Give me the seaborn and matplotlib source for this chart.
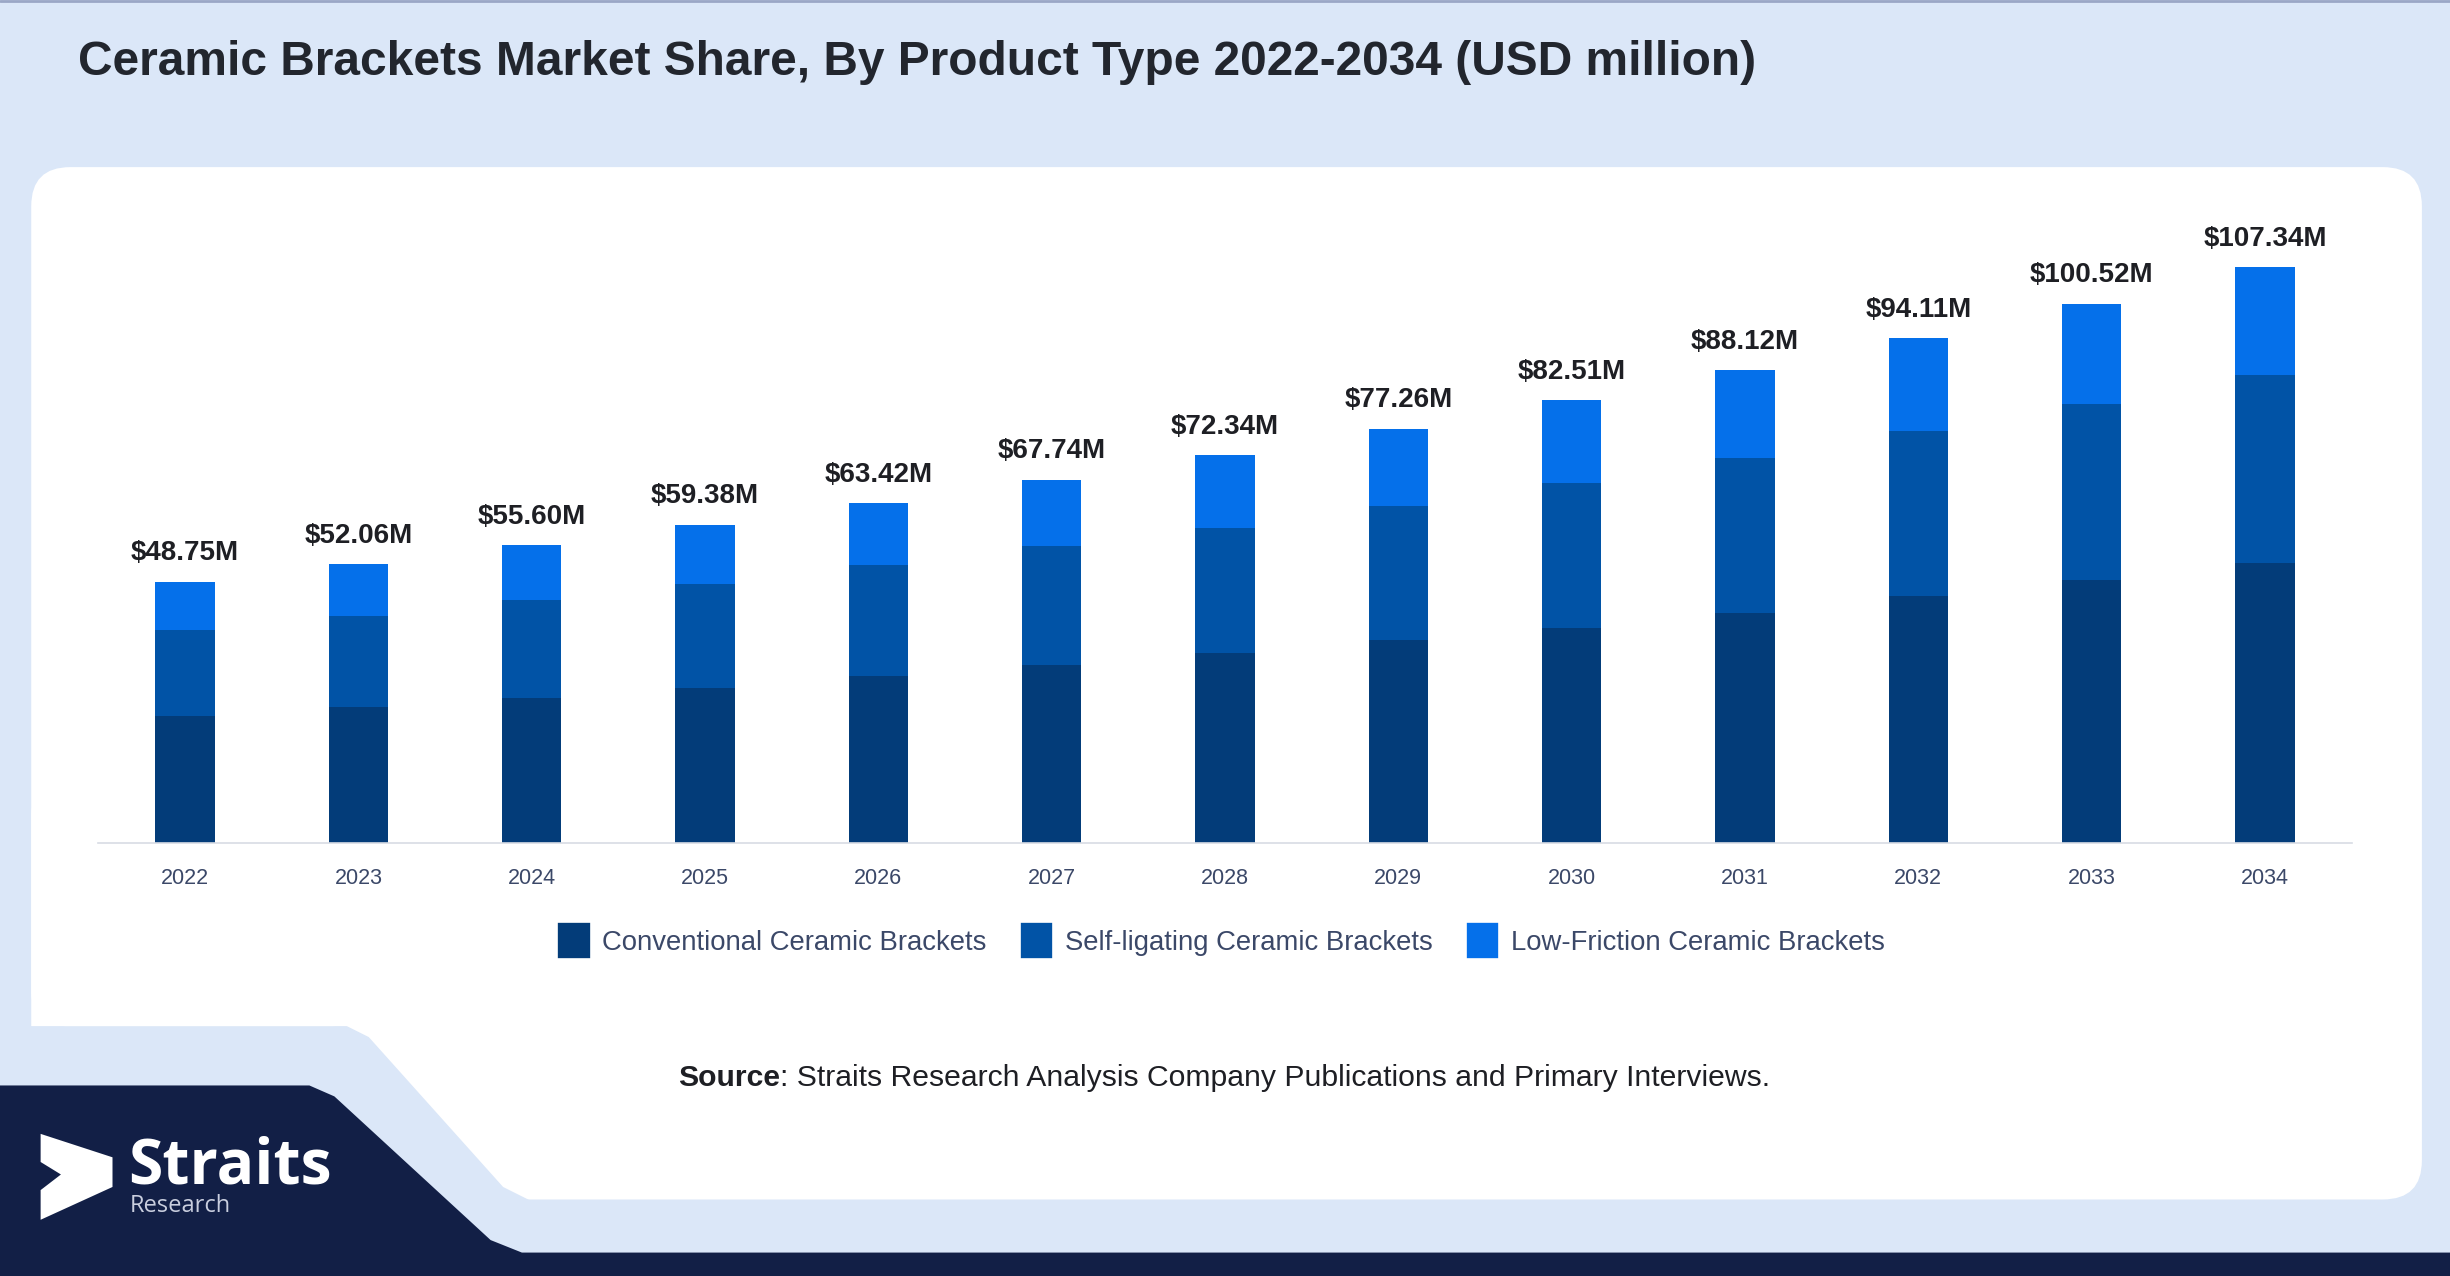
import matplotlib
matplotlib.use("Agg")
import matplotlib.pyplot as plt
import seaborn as sns
import numpy as np
from matplotlib.patches import FancyBboxPatch, Polygon, Patch
from matplotlib.transforms import Affine2D

years = ["2022", "2023", "2024", "2025", "2026", "2027", "2028",
         "2029", "2030", "2031", "2032", "2033", "2034"]
totals = [48.75, 52.06, 55.60, 59.38, 63.42, 67.74, 72.34,
          77.26, 82.51, 88.12, 94.11, 100.52, 107.34]
conventional = [23.80, 25.40, 27.00, 28.90, 31.10, 33.20, 35.50,
                37.80, 40.10, 43.00, 46.00, 49.10, 52.30]
self_ligating = [16.00, 17.00, 18.30, 19.40, 20.70, 22.10, 23.30,
                 25.00, 27.10, 28.80, 30.80, 32.80, 35.00]
low_friction = [8.95, 9.66, 10.30, 11.08, 11.62, 12.44, 13.54,
                14.46, 15.31, 16.32, 17.31, 18.62, 20.04]
series_names = ["Conventional Ceramic Brackets", "Self-ligating Ceramic Brackets",
                "Low-Friction Ceramic Brackets"]
colors = ["#033c79", "#0153a6", "#0570ea"]

sns.set_theme(style="white")
plt.rcParams["font.family"] = ["Liberation Sans", "DejaVu Sans"]

W, H = 1568, 817  # layout frame (scaled to the output size)
fig = plt.figure(figsize=(24.5, 12.76), dpi=100)
fig.patch.set_facecolor("#dbe7f8")
frame = Affine2D().scale(1 / W, -1 / H).translate(0, 1) + fig.transFigure

def fx(x):
    return x / W

def fy(y):
    return 1 - y / H

# background shapes
fig.add_artist(FancyBboxPatch((20, 107), 1530, 661, boxstyle="round,pad=0,rounding_size=25",
                              transform=frame, facecolor="white", edgecolor="none", zorder=-5))
fig.add_artist(Polygon([(0, 657), (222, 657), (236, 664), (322, 760), (340, 769), (0, 769)],
                       closed=True, transform=frame, facecolor="#dbe7f8", edgecolor="none", zorder=-4))
fig.add_artist(FancyBboxPatch((20, 500), 215, 157, boxstyle="round,pad=0,rounding_size=22",
                              transform=frame, facecolor="white", edgecolor="none", zorder=-4))
fig.add_artist(Polygon([(0, 695), (198, 695), (214, 702), (314, 794), (334, 802),
                        (W, 802), (W, H), (0, H)],
                       closed=True, transform=frame, facecolor="#121f46", edgecolor="none", zorder=-3))
fig.add_artist(plt.Line2D([0, W], [0.5, 0.5], transform=frame, color="#9aa7c6", lw=2, zorder=-2))

# logo
fig.add_artist(Polygon([(26, 726), (72, 741), (72, 760), (26, 781), (26, 762), (39, 752), (26, 744)],
                       closed=True, transform=frame, facecolor="white", edgecolor="none", zorder=-1))
fig.text(fx(82), fy(747), "Straits", color="white", fontsize=45, fontweight="bold",
         family=["Open Sans", "DejaVu Sans"], va="center", ha="left")
fig.text(fx(83), fy(772), "Research", color="#c9cede", fontsize=17,
         family=["Open Sans", "DejaVu Sans"], va="center", ha="left")

# title
fig.text(fx(50), fy(40), "Ceramic Brackets Market Share, By Product Type 2022-2034 (USD million)",
         fontsize=34.5, fontweight="bold", color="#22262e", va="center", ha="left")

# chart
ax = fig.add_axes([fx(63), fy(540), fx(1505) - fx(63), fy(127.5) - fy(540)])
ax.set_facecolor("none")
cum_mid = np.array(conventional) + np.array(self_ligating)
cum_top = cum_mid + np.array(low_friction)
for vals, c in [(cum_top, colors[2]), (cum_mid, colors[1]), (conventional, colors[0])]:
    sns.barplot(x=years, y=vals, color=c, saturation=1, width=0.343, ax=ax, edgecolor="none")

for i, t in enumerate(totals):
    ax.annotate(f"${t:.2f}M", (i, t), xytext=(0, 11), textcoords="offset points",
                ha="center", va="bottom", fontsize=20, fontweight="bold", color="#1e1f24")

ax.set_xlim(-0.5, 12.5)
ax.set_ylim(0, 120)
sns.despine(ax=ax, left=True, top=True, right=True)
ax.spines["bottom"].set_color("#d8dce4")
ax.spines["bottom"].set_linewidth(1.2)
ax.set_yticks([])
ax.set_xlabel("")
ax.set_ylabel("")
ax.tick_params(axis="x", length=0, pad=18, labelsize=15.5, labelcolor="#3b4868")

handles = [Patch(facecolor=c, edgecolor=c, linewidth=6, joinstyle="round") for c in colors]
fig.legend(handles, series_names, loc="center", bbox_to_anchor=(fx(783), fy(603)), ncol=3,
           frameon=False, fontsize=19.8, labelcolor="#3b4868", handlelength=0.85, handleheight=1.1,
           handletextpad=0.6, columnspacing=1.4)

# source line
r = fig.canvas.get_renderer()
t1 = fig.text(0, fy(690), "Source", fontsize=21.7, fontweight="bold", color="#1e1f24", va="center")
t2 = fig.text(0, fy(690), ": Straits Research Analysis Company Publications and Primary Interviews.",
              fontsize=21.7, color="#1e1f24", va="center")
w1 = t1.get_window_extent(r).width
w2 = t2.get_window_extent(r).width
figw = fig.get_figwidth() * fig.dpi
x0 = fx(783.5) * figw - (w1 + w2) / 2
t1.set_x(x0 / figw)
t2.set_x((x0 + w1) / figw)

fig.savefig("out.png", dpi=100, facecolor=fig.get_facecolor())
